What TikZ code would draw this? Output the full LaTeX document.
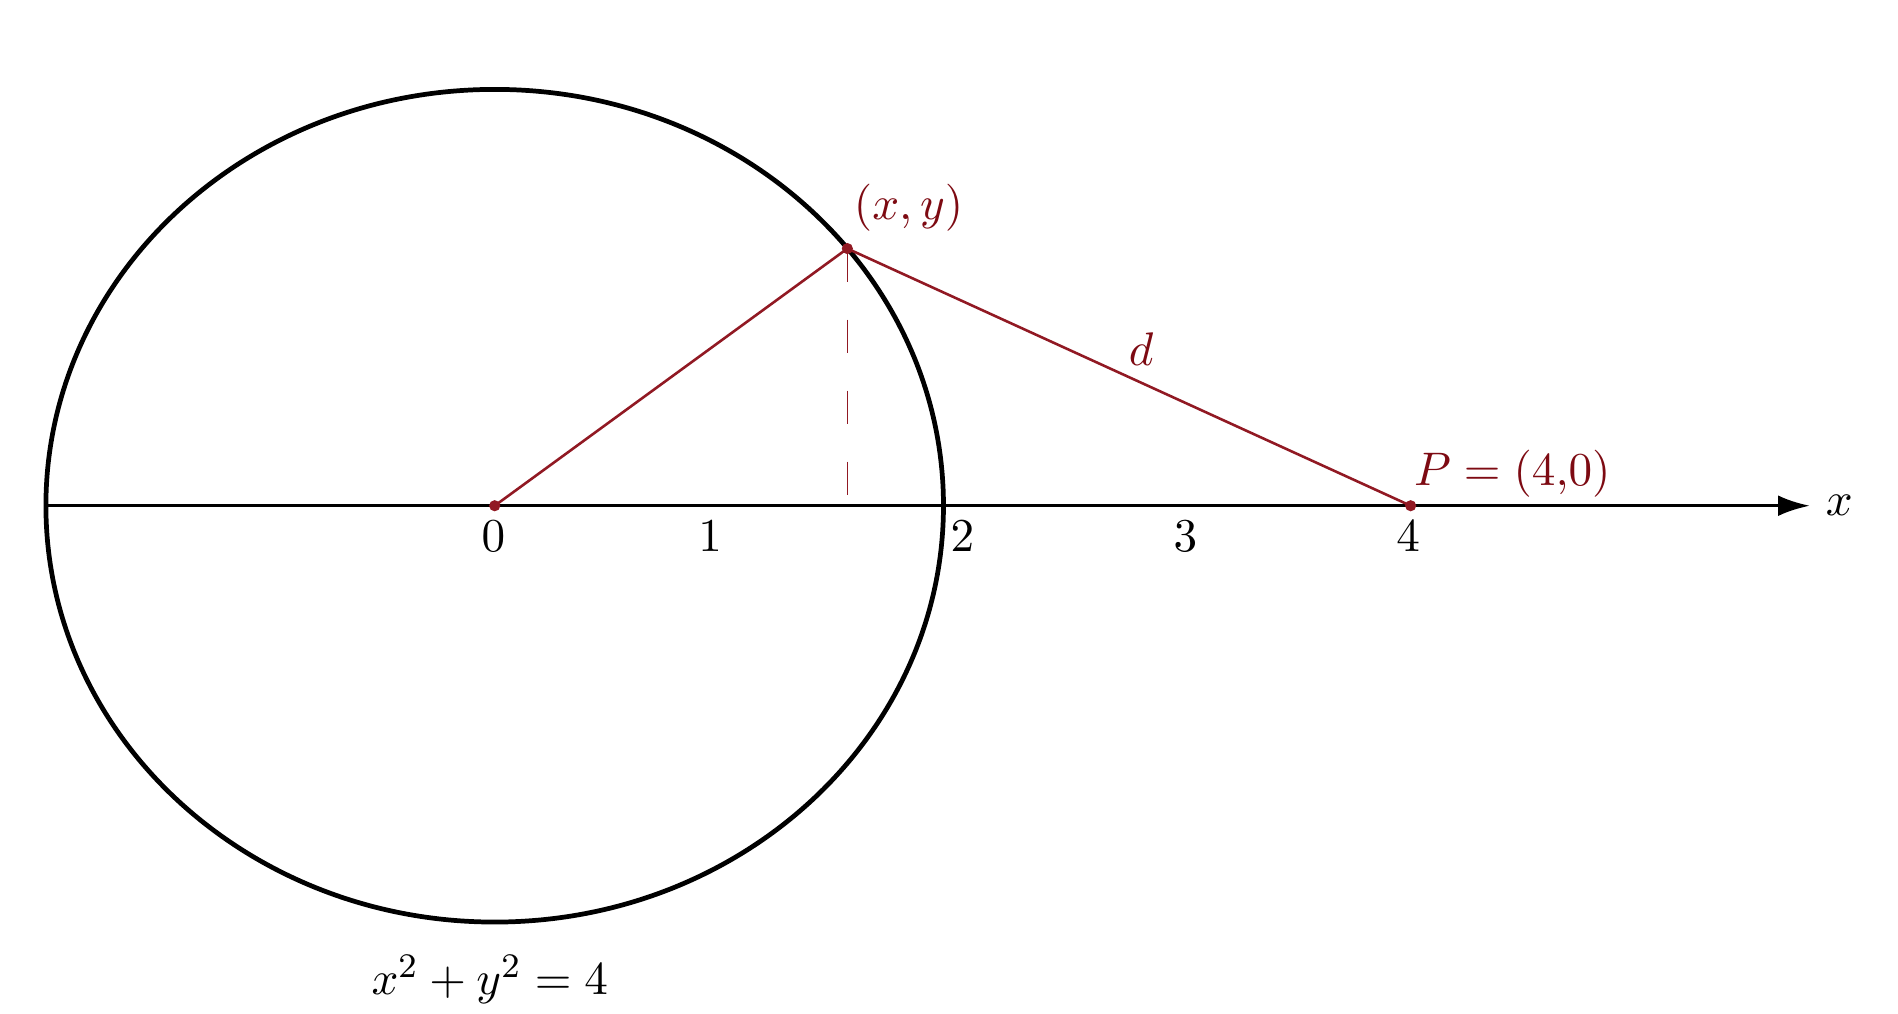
\documentclass[tikz,border=0pt]{standalone}
\usepackage{amsmath,amsfonts}
\usepackage[svgnames]{xcolor}
\usepackage{tikz}
\usetikzlibrary{positioning, arrows.meta}
\definecolor{ptred}{RGB}{125,10,18}
\definecolor{segred}{RGB}{145,25,35}

\begin{document}
\begin{tikzpicture}[font=\fontsize{11}{13}\selectfont]
        \useasboundingbox (-4.04,-4.15) rectangle (11.46,4.13);
        \coordinate (O) at (0,0);
        \coordinate (Q) at (2.88,2.10);
        \coordinate (Qfoot) at (2.88,0);
        \coordinate (P) at (7.48,0);
        \coordinate (axisstart) at (-3.665,0);
        \coordinate (axisend) at (10.74,0);

        \draw [line width=1.1pt] (O) ellipse [x radius=3.665, y radius=3.40];
        \draw [-{Latex[length=2.6mm,width=1.7mm]}, line width=0.8pt] (axisstart) -- (axisend)
        node (xaxis) [right] {$x$};

        \draw [segred, line width=0.6pt] (O) -- (Q) -- (P);
        \draw [segred, line width=0.4pt, dash pattern=on 2.7mm off 3.1mm] (Q) -- (Qfoot);
        \fill [segred] (O) circle (1.3pt) (Q) circle (1.3pt) (P) circle (1.3pt);

        \foreach \xpos/\lab in {-0.01/0, 1.76/1, 3.82/2, 5.64/3, 7.46/4}
            \node (tick\lab) [below] at (\xpos,0) {$\lab$};

        \node (qlabel) [ptred] at (3.38,2.43) {$(x,y)$};
        \node (dlabel) [ptred] at (5.28,1.28) {$d$};
        \node (plabel) [ptred] at (8.31,0.26) {$P=(4{,}0)$};
        \node (circlelabel) at (-0.04,-3.87) {$x^2+y^2=4$};
        %\draw (O) -- (Qfoot);
    \end{tikzpicture}
\end{document}
